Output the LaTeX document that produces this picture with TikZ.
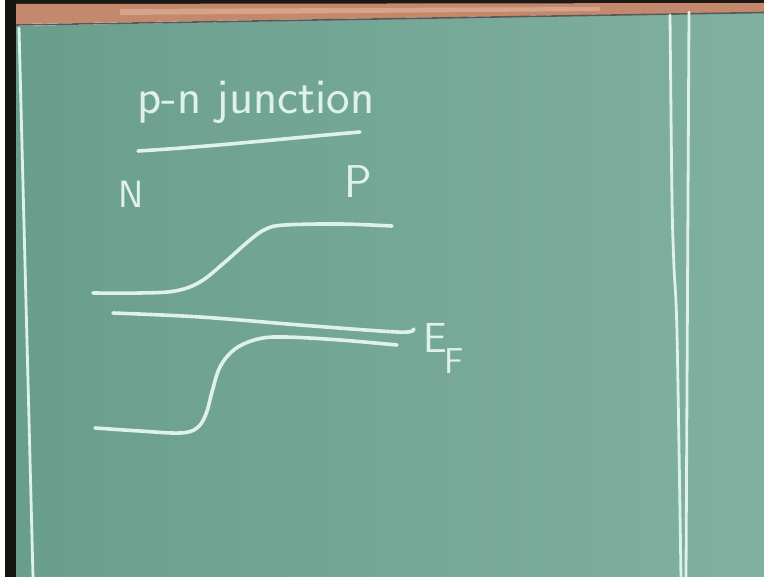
\documentclass[tikz,border=0pt]{standalone}
\usepackage{fontspec}
\definecolor{boardL}{RGB}{106,158,140}
\definecolor{boardR}{RGB}{128,176,160}
\definecolor{chalkc}{RGB}{222,242,233}
\definecolor{wood}{RGB}{196,136,108}
\definecolor{woodlight}{RGB}{226,184,160}
\definecolor{topdark}{RGB}{28,24,20}
\definecolor{framedark}{RGB}{18,20,16}
\begin{document}
\begin{tikzpicture}[x=1pt,y=-1pt,
  chalk/.style={draw=chalkc, line width=3.6pt, line cap=round, line join=round},
  chalkthin/.style={draw=chalkc, line width=2.8pt, line cap=round},
  chalktext/.style={text=chalkc, font=\sffamily, inner sep=0pt}]
\useasboundingbox (0,0) rectangle (764,577);
% frame and board
\fill[white] (0,0) rectangle (764,577);
\fill[framedark] (5,0) rectangle (16,577);
\fill[topdark] (16,0) rectangle (764,4);
\shade[left color=boardL, right color=boardR] (16,26) -- (764,12) -- (764,577) -- (16,577) -- cycle;
\fill[wood] (16,4) -- (764,3) -- (764,12) -- (16,24) -- cycle;
\fill[woodlight, opacity=0.6] (120,9) -- (600,7) -- (600,11) -- (120,15) -- cycle;
\draw[gray!70!black, line width=1.6pt] (16,25) -- (764,12.5);
% board border lines
\draw[chalkthin] (19,28) -- (33,577);
\draw[chalkthin] plot[smooth] coordinates {(670,15) (672,200) (674,267) (677,333) (681,577)};
\draw[chalkthin] (689,12) -- (686,577);
% title
\node[chalktext, anchor=base west, font=\sffamily\fontsize{50}{54}\selectfont] (title) at (137,114) {p-n junction};
\draw[chalk] (138,151) .. controls (220,146) and (300,137) .. (360,132);
% labels
\node[chalktext, anchor=base, font=\sffamily\fontsize{38}{40}\selectfont] (nlab) at (131,208) {N};
\node[chalktext, anchor=base, font=\sffamily\fontsize{46}{48}\selectfont] (plab) at (358,198) {P};
\node[chalktext, anchor=base west, font=\sffamily\fontsize{42}{46}\selectfont] (elab) at (423,353) {E};
\node[chalktext, anchor=base west, font=\sffamily\fontsize{36}{38}\selectfont] (flab) at (444,374) {F};
% conduction band
\draw[chalk] plot[smooth, tension=0.6] coordinates {(93,293) (140,293) (175,291) (200,282) (225,262) (250,240) (266,229) (285,225) (340,224) (392,226)};
% Fermi level
\draw[chalk] plot[smooth, tension=0.6] coordinates {(113,313) (200,317) (300,325) (380,331) (408,332) (414,329)};
% valence band
\draw[chalk] plot[smooth, tension=0.6] coordinates {(95,428) (140,431) (180,433) (197,428) (206,414) (212,392) (220,367) (235,349) (258,339) (285,337) (340,340) (397,345)};
\end{tikzpicture}
\end{document}
